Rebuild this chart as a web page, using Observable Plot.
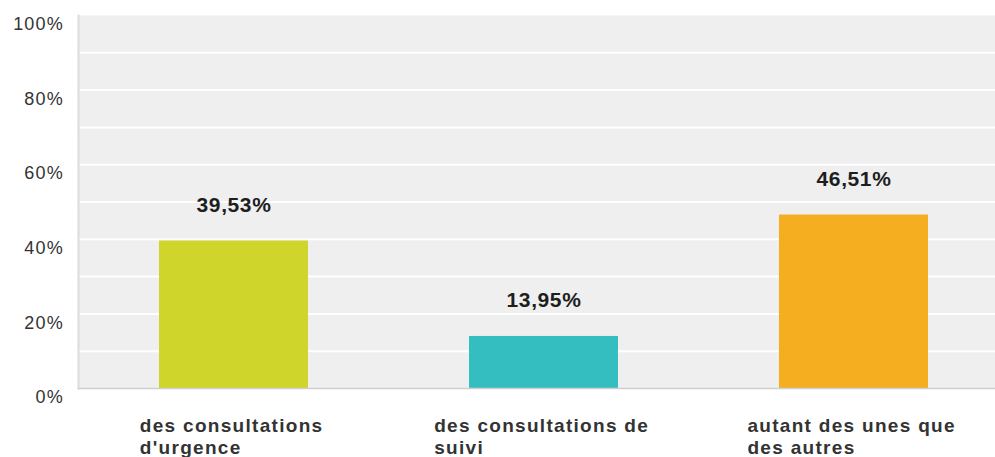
<!DOCTYPE html>
<html>
<head>
<meta charset="utf-8">
<script src="https://cdn.jsdelivr.net/npm/d3@7"></script>
<script src="https://cdn.jsdelivr.net/npm/@observablehq/plot@0.6"></script>
<style>
  html, body { margin: 0; padding: 0; background: #fff; overflow: hidden; }
  svg { font-family: "Liberation Sans", Arial, sans-serif; }
  g[aria-label="y-axis tick label"], g[aria-label="y-axis tick label"] text { letter-spacing: 1.2px; }
  g[font-size="21"], g[font-size="21"] text { letter-spacing: 0.6px; }
  g[font-size="19"], g[font-size="19"] text { letter-spacing: 1.3px; }
</style>
</head>
<body>
<div id="chart"></div>
<script>
// ---- data ----
const categories = ["des consultations d'urgence", "des consultations de suivi", "autant des unes que des autres"];
const categoryLabels = ["des consultations\nd'urgence", "des consultations de\nsuivi", "autant des unes que\ndes autres"];
const values = [39.53, 13.95, 46.51];
const yTicks = [0, 20, 40, 60, 80, 100];
const gridLines = [10, 20, 30, 40, 50, 60, 70, 80, 90];
const palette = ["#cfd52a", "#34bec0", "#f6ae21"];

const table = categories.map((c, i) => ({cat: c, label: categoryLabels[i], value: values[i]}));

// measure text blocks so each multi-line label is centred as a block, lines left-aligned
const catFontSize = 19, catSpacing = 1.3;
const ctx = document.createElement("canvas").getContext("2d");
ctx.font = `bold ${catFontSize}px "Liberation Sans", Arial, sans-serif`;
function blockWidth(label) {
  return d3.max(label.split("\n"), l => ctx.measureText(l).width + (l.length - 1) * catSpacing);
}

const W = 995, H = 457;
const marginLeft = 78, marginTop = 15, marginBottom = 69, marginRight = 0;

const catMarks = table.map(d => Plot.text([d], {
  x: "cat",
  text: "label",
  frameAnchor: "bottom",
  textAnchor: "start",
  lineAnchor: "top",
  lineHeight: 1.16,
  dy: 27.5,
  dx: -blockWidth(d.label) / 2 - 3,
  fontSize: catFontSize,
  fontWeight: "bold",
  fill: "#333"
}));

const chart = Plot.plot({
  width: W,
  height: H,
  marginLeft, marginTop, marginBottom, marginRight,
  x: {domain: categories, range: [marginLeft + 0.5, marginLeft + 0.5 + 930], paddingInner: 0.52, paddingOuter: 0.26, align: 0.5, axis: null},
  y: {domain: [0, 100], axis: null},
  color: {domain: categories, range: palette},
  marks: [
    Plot.frame({fill: "#efefef", stroke: null}),
    Plot.ruleY(gridLines, {stroke: "#ffffff", strokeWidth: 2}),
    Plot.frame({anchor: "left", stroke: "#dcdcdc", strokeWidth: 2}),
    Plot.barY(table, {x: "cat", y: "value", fill: "cat"}),
    Plot.ruleY([0], {stroke: "#cfcfcf", strokeWidth: 1.5}),
    Plot.axisY(yTicks, {
      label: null,
      tickSize: 0,
      tickPadding: 14.5,
      tickFormat: d => d + "%",
      fontSize: 18,
      fill: "#333",
      dy: 9
    }),
    Plot.text(table, {
      x: "cat",
      y: "value",
      text: d => d.value.toFixed(2).replace(".", ",") + "%",
      dy: -36,
      fontSize: 21,
      fontWeight: "bold",
      fill: "#1e1e1e"
    }),
    ...catMarks
  ]
});
document.getElementById("chart").appendChild(chart);
</script>
</body>
</html>
